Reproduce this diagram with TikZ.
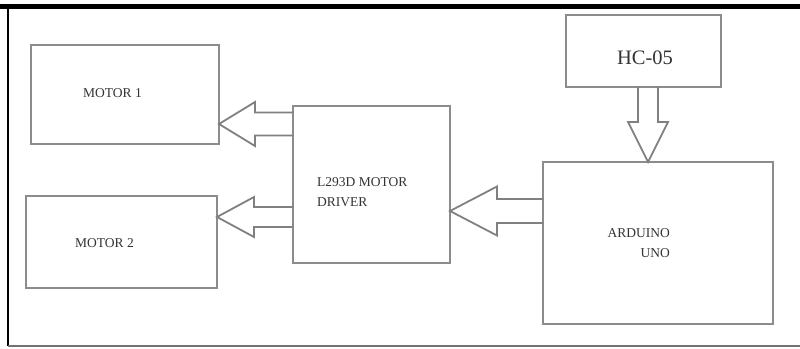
\documentclass[tikz,border=0pt]{standalone}
\usepackage{fontspec}
\setmainfont{Liberation Serif}
\usetikzlibrary{calc}

% hollow block arrow: start, tip, shaft half width, head half width, head length
\newcommand{\fatarrow}[5]{%
  \coordinate (hb) at ($(#2)!#5pt!(#1)$);
  \draw[arrowline] ($(#1)!#3pt!90:(#2)$) -- ($(hb)!#3pt!-90:(#1)$)
    -- ($(hb)!#4pt!-90:(#1)$) -- (#2) -- ($(hb)!#4pt!90:(#1)$)
    -- ($(hb)!#3pt!90:(#1)$) -- ($(#1)!#3pt!-90:(#2)$);
}

\begin{document}
\begin{tikzpicture}[x=1pt,y=-1pt,
    block/.style={draw=black!45,line width=2pt,inner sep=0pt,outer sep=0pt},
    lbl/.style={inner sep=0pt,text=black!80,font=\fontsize{13.5}{20}\selectfont},
    arrowline/.style={draw=black!50,line width=1.8pt,line join=miter}
  ]
    \useasboundingbox (0,0) rectangle (800,348);

    % frame
    \draw[line width=5pt] (0,6.5) -- (800,6.5);
    \draw[line width=1.2pt] (8,9) -- (8,346);
    \draw[black!55,line width=2.5pt] (8,346) -- (800,346);

    % blocks
    \node[block,minimum width=188pt,minimum height=99pt] (motor1) at (125,94.5) {};
    \node[block,minimum width=191pt,minimum height=92pt] (motor2) at (121.5,242) {};
    \node[block,minimum width=157pt,minimum height=157pt] (driver) at (371.5,184.5) {};
    \node[block,minimum width=155pt,minimum height=72pt] (hc05) at (643.5,51) {};
    \node[block,minimum width=230pt,minimum height=162pt] (arduino) at (658,243) {};

    % texts
    \node[lbl,anchor=west] (m1txt) at (83,93) {MOTOR 1};
    \node[lbl,anchor=west] (m2txt) at (75,243) {MOTOR 2};
    \node[lbl,anchor=west,align=left] (drvtxt) at (317,192) {L293D MOTOR\\DRIVER};
    \node[lbl,anchor=east,align=right] (ardtxt) at (670,243) {ARDUINO\\UNO};
    \node[lbl,font=\fontsize{20.5}{24}\selectfont] (hctxt) at (645,58) {HC-05};

    % arrow ends
    \coordinate (a1s) at (driver.west |- 0,124);
    \coordinate (a1e) at (motor1.east |- 0,124);
    \coordinate (a2s) at (driver.west |- 0,217);
    \coordinate (a2e) at (motor2.east |- 0,217);
    \coordinate (a3s) at (arduino.west |- 0,211);
    \coordinate (a3e) at (driver.east |- 0,211);
    \coordinate (a4s) at (hc05.south -| 648,0);
    \coordinate (a4e) at (arduino.north -| 648,0);

    \fatarrow{a1s}{a1e}{11.5}{22}{36}
    \fatarrow{a2s}{a2e}{10}{20}{37}
    \fatarrow{a3s}{a3e}{12}{24.5}{47}
    \fatarrow{a4s}{a4e}{10}{20}{40}
\end{tikzpicture}
\end{document}
